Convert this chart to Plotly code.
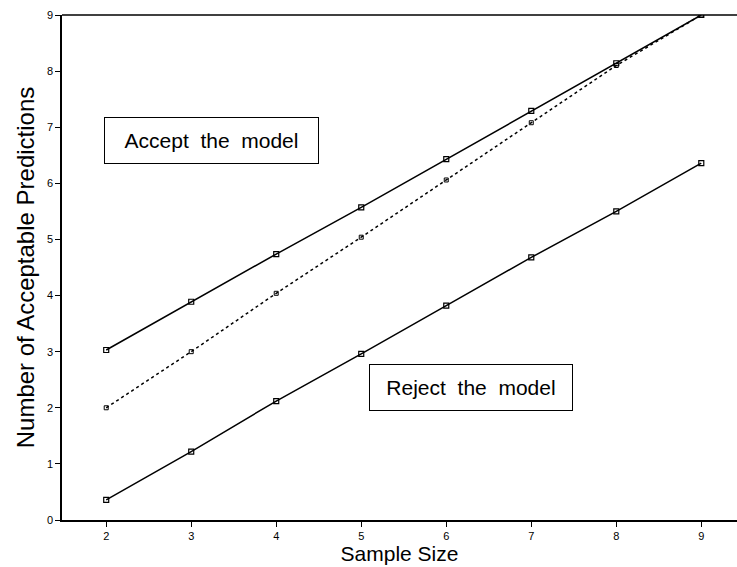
import plotly.graph_objects as go

sample_size = [2, 3, 4, 5, 6, 7, 8, 9]
upper_bound = [3.03, 3.89, 4.74, 5.57, 6.43, 7.29, 8.14, 9.0]
expected = [2.0, 3.0, 4.04, 5.04, 6.06, 7.08, 8.1, 9.0]
lower_bound = [0.36, 1.22, 2.12, 2.96, 3.82, 4.68, 5.5, 6.36]

fig = go.Figure()
fig.add_trace(go.Scatter(x=sample_size, y=upper_bound, mode="lines+markers",
                         line=dict(color="black", width=1.5),
                         marker=dict(symbol="square-open", size=5, color="black", line=dict(width=1.2))))
fig.add_trace(go.Scatter(x=sample_size, y=expected, mode="lines+markers",
                         line=dict(color="black", width=1.5, dash="dot"),
                         marker=dict(symbol="square-open", size=4, color="black", line=dict(width=1))))
fig.add_trace(go.Scatter(x=sample_size, y=lower_bound, mode="lines+markers",
                         line=dict(color="black", width=1.5),
                         marker=dict(symbol="square-open", size=5, color="black", line=dict(width=1.2))))

fig.add_annotation(x=3.24, y=6.77, xref="x", yref="y", text="Accept&nbsp; the&nbsp; model",
                   showarrow=False, font=dict(family="Liberation Sans, Arial", size=21, color="black"),
                   width=193, height=25, align="center",
                   bordercolor="black", borderwidth=1, borderpad=10, bgcolor="white")
fig.add_annotation(x=6.29, y=2.37, xref="x", yref="y", text="Reject&nbsp; the&nbsp; model",
                   showarrow=False, font=dict(family="Liberation Sans, Arial", size=21, color="black"),
                   width=182, height=25, align="center",
                   bordercolor="black", borderwidth=1, borderpad=10, bgcolor="white")

# top frame line spanning the full width
fig.add_shape(type="line", xref="paper", yref="paper", x0=0, x1=1, y0=1, y1=1,
              line=dict(color="black", width=1.5))

fig.update_layout(
    width=737, height=567,
    margin=dict(l=62, r=0, t=15, b=47),
    plot_bgcolor="white", paper_bgcolor="white",
    showlegend=False,
    font=dict(family="Liberation Sans, Arial", color="black"),
)
fig.update_xaxes(range=[1.48, 9.42], tickvals=sample_size, showgrid=False, zeroline=False,
                 showline=True, linecolor="black", linewidth=1.5,
                 ticks="outside", ticklen=5, tickcolor="black", tickwidth=1,
                 tickfont=dict(size=11),
                 title=dict(text="Sample Size", font=dict(size=21), standoff=2))
fig.update_yaxes(range=[0, 9], tickvals=list(range(10)), showgrid=False, zeroline=False,
                 showline=True, linecolor="black", linewidth=1.5,
                 ticks="outside", ticklen=5, tickcolor="black", tickwidth=1,
                 tickfont=dict(size=11),
                 title=dict(text="Number of Acceptable Predictions", font=dict(size=24), standoff=6))

fig.write_html("out.html")
